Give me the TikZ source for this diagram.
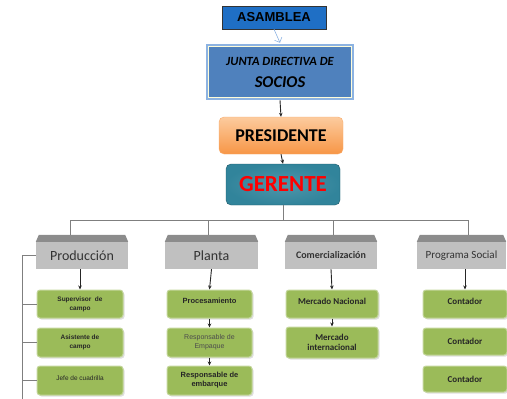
\documentclass[tikz,border=0pt]{standalone}
\usepackage{fontspec}
\setmainfont{Carlito}
\newfontfamily\arialf{Liberation Sans}
\usetikzlibrary{arrows.meta,shadows}

\definecolor{asamblue}{HTML}{1F6FC5}
\definecolor{juntablue}{HTML}{4F81BD}
\definecolor{juntaedge}{HTML}{8DB3E2}
\definecolor{orangetop}{HTML}{FCCB9E}
\definecolor{orangebot}{HTML}{F79646}
\definecolor{tealfill}{HTML}{31849B}
\definecolor{tealedge}{HTML}{215968}
\definecolor{cargogreen}{HTML}{9BBB59}
\definecolor{cargoedge}{HTML}{C3D69B}
\definecolor{deptgray}{HTML}{C0C0C0}
\definecolor{roofgray}{HTML}{8C8C8C}
\definecolor{linkgray}{HTML}{7F7F7F}

\begin{document}
\begin{tikzpicture}[x=1pt, y=-1pt,
    asambox/.style={rectangle, draw=black!80, fill=asamblue, minimum width=104pt, minimum height=23pt, inner sep=0pt, font=\arialf\bfseries\fontsize{13}{15}\selectfont},
    juntabox/.style={rectangle, draw=juntaedge, line width=2.5pt, fill=juntablue, minimum width=146pt, minimum height=54pt, inner sep=0pt, align=center},
    presbox/.style={rectangle, rounded corners=5pt, draw=orangebot!80, top color=orangetop, bottom color=orangebot, minimum width=124pt, minimum height=37pt, inner sep=0pt, font=\bfseries\fontsize{18}{20}\selectfont},
    gerbox/.style={rectangle, rounded corners=5pt, draw=tealedge, inner color=tealfill!85!white, outer color=tealfill, minimum width=114pt, minimum height=41pt, inner sep=0pt, text=red, font=\bfseries\fontsize{23}{25}\selectfont},
    dept/.style={rectangle, fill=deptgray, minimum height=27pt, inner sep=0pt, text=black!80},
    cargo/.style={rectangle, rounded corners=3pt, draw=cargoedge, line width=1pt, fill=cargogreen, drop shadow={opacity=0.25, shadow xshift=1.5pt, shadow yshift=-1.5pt}, inner sep=1pt, align=center, font=\bfseries\fontsize{9}{10.5}\selectfont, text=black!85},
    small/.style={font=\arialf\bfseries\fontsize{6.5}{9}\selectfont},
    roof/.style={fill=roofgray},
    link/.style={draw=linkgray, line width=0.6pt},
    arrow/.style={-{Stealth[length=4pt, width=3.5pt]}, line width=0.9pt, black!85}
]
\useasboundingbox (0,0) rectangle (507,399);

% Top of the chart
\node at (280,72) [juntabox] (junta) {{\bfseries\itshape\fontsize{12.5}{14}\selectfont JUNTA DIRECTIVA DE}\\[10pt]{\bfseries\itshape\fontsize{16.5}{18}\selectfont SOCIOS}};
\draw [white!85!yellow, line width=0.8pt] ([shift={(3pt,-3pt)}]junta.north west) rectangle ([shift={(-3pt,3pt)}]junta.south east);
\node at (274,17.5) [asambox] (asam) {ASAMBLEA};
\node at (281,135.5) [presbox] (pres) {PRESIDENTE};
\node at (283,184.5) [gerbox] (ger) {GERENTE};

% Arrows down the top
\draw [-{Straight Barb[length=4pt]}, juntaedge, line width=0.6pt] (asam.south) -- ([yshift=1pt]junta.north);
\draw [arrow] (junta.south) -- (pres.north);
\draw [arrow] (pres.south) -- (ger.north);

% Departments
\node at (82,255.5) [dept, minimum width=92pt, font=\fontsize{14}{16}\selectfont] (prod) {Producción};
\node at (211.5,255.5) [dept, minimum width=93pt, font=\fontsize{14}{16}\selectfont] (plan) {Planta};
\node at (331,255.5) [dept, minimum width=92pt, font=\bfseries\fontsize{10}{12}\selectfont] (com) {Comercialización};
\node at (461.5,255.5) [dept, minimum width=89pt, font=\fontsize{11}{13}\selectfont] (soc) {Programa Social};
\foreach \d in {prod,plan,com,soc}
    \fill [roof] (\d.north west) -- ([shift={(3pt,7pt)}]\d.north west) -- ([shift={(-3pt,7pt)}]\d.north east) -- (\d.north east) -- cycle;

% Tree lines
\draw [link] (ger.south) -- ++(0,15);
\draw [link] ([xshift=-12pt,yshift=7pt]prod.north) -- ++(0,-15) -| ([xshift=7pt,yshift=7pt]soc.north);
\draw [link] ([xshift=-3pt,yshift=7pt]plan.north) -- ++(0,-15);
\draw [link] ([xshift=2pt,yshift=7pt]com.north) -- ++(0,-15);

% Produccion column
\node at (80,304) [cargo, small, minimum width=86pt, minimum height=28pt] (sup) {Supervisor\ \ de\\campo};
\node at (80,342.5) [cargo, small, minimum width=86pt, minimum height=29pt] (asi) {Asistente de\\campo};
\node at (80,380.5) [cargo, minimum width=86pt, minimum height=29pt, font=\arialf\fontsize{6.5}{8}\selectfont] (jef) {\raisebox{5pt}{Jefe de cuadrilla}};
\draw [arrow] (sup.north |- prod.south) -- (sup.north);

% Bracket on the left
\coordinate (brk) at (22,399);
\draw [link] (prod.west) -- (prod.west -| brk) -- (brk);
\foreach \n in {sup,asi,jef}
    \draw [link] (\n.west) -- (\n.west -| brk);

% Planta column
\node at (209.5,304) [cargo, minimum width=85pt, minimum height=28pt, font=\arialf\bfseries\fontsize{7.5}{9}\selectfont] (proc) {\raisebox{6pt}{Procesamiento}};
\node at (209.5,342.5) [cargo, minimum width=85pt, minimum height=29pt, font=\arialf\fontsize{7}{9}\selectfont, text=black!70] (emp) {Responsable de\\Empaque};
\node at (209.5,380.5) [cargo, minimum width=85pt, minimum height=29pt, font=\arialf\bfseries\fontsize{7.5}{9}\selectfont] (emb) {Responsable de\\embarque};
\draw [arrow] (plan.south) -- (proc.north);
\draw [arrow] (proc.south) -- (emp.north);
\draw [arrow] (emp.south) -- (emb.north);

% Comercializacion column
\node at (332,304) [cargo, minimum width=92pt, minimum height=28pt] (nac) {\raisebox{5pt}{Mercado Nacional}};
\node at (332,342.5) [cargo, minimum width=92pt, minimum height=31pt] (int) {Mercado\\internacional};
\draw [arrow] (com.south) -- (nac.north);
\draw [arrow] (nac.south) -- (int.north);

% Programa Social column
\node at (465,304) [cargo, minimum width=84pt, minimum height=28pt] (con1) {\raisebox{5pt}{Contador}};
\node at (465,341.5) [cargo, minimum width=84pt, minimum height=27pt] (con2) {Contador};
\node at (465,379) [cargo, minimum width=84pt, minimum height=26pt] (con3) {Contador};
\draw [arrow] (con1.north |- soc.south) -- (con1.north);

\end{tikzpicture}
\end{document}
